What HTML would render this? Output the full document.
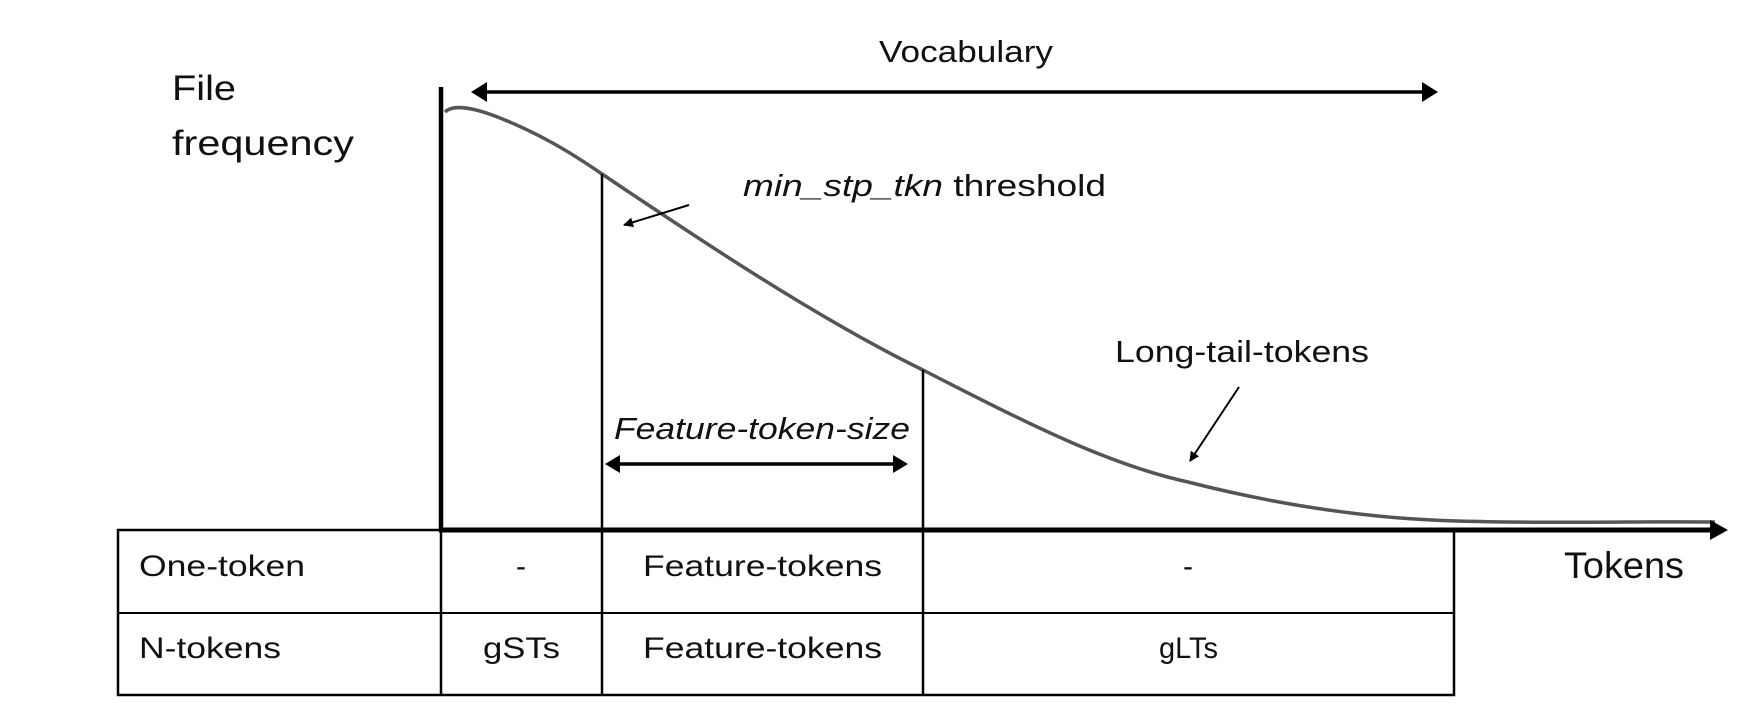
<!DOCTYPE html>
<html><head><meta charset="utf-8"><style>
html,body{margin:0;padding:0;background:#fff;}
svg{display:block;}
text{font-family:"Liberation Sans",sans-serif;fill:#111;}
</style></head><body>
<svg width="1758" height="722" viewBox="0 0 1758 722" xmlns="http://www.w3.org/2000/svg">
<defs>
<marker id="ah" markerWidth="10" markerHeight="10" refX="9" refY="5" orient="auto" markerUnits="userSpaceOnUse">
<path d="M0,0 L10,5 L0,10 Z" fill="#000"/></marker>
</defs>
<path d="M445,112 C452,105 470,106 500,118 C540,134 570,152 602,174 C700,240 820,320 923,370 C1030,425 1110,465 1188,482 C1290,508 1380,519 1457,521 C1560,524 1650,521 1715,522" fill="none" stroke="#555" stroke-width="3.5"/>
<line x1="441" y1="87" x2="441" y2="532" stroke="#000" stroke-width="4.5"/>
<line x1="439" y1="530" x2="1712" y2="530" stroke="#000" stroke-width="5"/>
<path d="M1710,520 L1728,530 L1710,540 Z" fill="#000"/>
<line x1="485" y1="92" x2="1424" y2="92" stroke="#000" stroke-width="3.5"/>
<path d="M471,92 L487,82 L487,102 Z" fill="#000"/>
<path d="M1438,92 L1422,82 L1422,102 Z" fill="#000"/>
<text x="879" y="62" font-size="31" textLength="174" lengthAdjust="spacingAndGlyphs">Vocabulary</text>
<text x="172" y="100" font-size="35" textLength="64" lengthAdjust="spacingAndGlyphs">File</text>
<text x="172" y="155" font-size="35" textLength="182" lengthAdjust="spacingAndGlyphs">frequency</text>
<line x1="602" y1="174" x2="602" y2="695" stroke="#000" stroke-width="2.5"/>
<line x1="923" y1="370" x2="923" y2="695" stroke="#000" stroke-width="2.5"/>
<rect x="118" y="530" width="1336" height="165" fill="none" stroke="#000" stroke-width="2.5"/>
<line x1="118" y1="613" x2="1454" y2="613" stroke="#000" stroke-width="2"/>
<line x1="441" y1="530" x2="441" y2="695" stroke="#000" stroke-width="2.5"/>
<text x="139" y="576" font-size="30" textLength="166" lengthAdjust="spacingAndGlyphs">One-token</text>
<text x="139" y="658" font-size="30" textLength="142" lengthAdjust="spacingAndGlyphs">N-tokens</text>
<text x="521" y="576" font-size="30" text-anchor="middle">-</text>
<text x="483" y="658" font-size="30" textLength="77" lengthAdjust="spacingAndGlyphs">gSTs</text>
<text x="643" y="576" font-size="30" textLength="239" lengthAdjust="spacingAndGlyphs">Feature-tokens</text>
<text x="643" y="658" font-size="30" textLength="239" lengthAdjust="spacingAndGlyphs">Feature-tokens</text>
<text x="1188" y="576" font-size="30" text-anchor="middle">-</text>
<text x="1159" y="658" font-size="30" textLength="59" lengthAdjust="spacingAndGlyphs">gLTs</text>
<text x="1564" y="578" font-size="37" textLength="120" lengthAdjust="spacingAndGlyphs">Tokens</text>
<text x="743" y="196" font-size="31" textLength="363" lengthAdjust="spacingAndGlyphs"><tspan font-style="italic">min_stp_tkn</tspan> threshold</text>
<line x1="689" y1="205" x2="624" y2="225" stroke="#000" stroke-width="2" marker-end="url(#ah)"/>
<text x="614" y="439" font-size="31" font-style="italic" textLength="296" lengthAdjust="spacingAndGlyphs">Feature-token-size</text>
<line x1="618" y1="464" x2="895" y2="464" stroke="#000" stroke-width="3.5"/>
<path d="M605,464 L620,455 L620,473 Z" fill="#000"/>
<path d="M908,464 L893,455 L893,473 Z" fill="#000"/>
<text x="1115" y="362" font-size="31" textLength="254" lengthAdjust="spacingAndGlyphs">Long-tail-tokens</text>
<line x1="1239" y1="387" x2="1190" y2="461" stroke="#000" stroke-width="2" marker-end="url(#ah)"/>
</svg>
</body></html>
